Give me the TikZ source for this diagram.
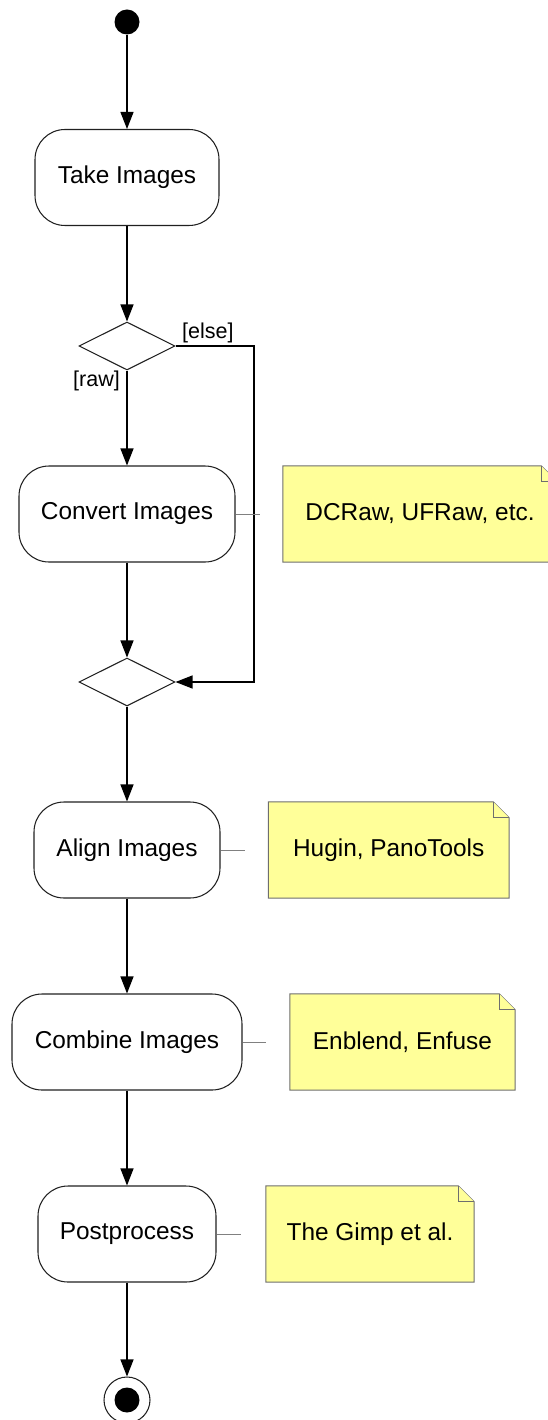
\documentclass[tikz,border=0pt]{standalone}
\usepackage{fontspec}
\setmainfont{Liberation Sans}
\usetikzlibrary{arrows.meta,shapes.geometric,backgrounds}
\definecolor{noteyellow}{HTML}{FFFF99}
\definecolor{notegray}{HTML}{6E6E6E}
\definecolor{linkgray}{HTML}{808080}
\definecolor{boxline}{HTML}{202020}
\tikzset{
  actbox/.style={draw=boxline, line width=1.05pt, rectangle, rounded corners=30pt,
     minimum height=96pt, inner sep=0pt, font=\fontsize{24.4}{28}\selectfont},
  decision/.style={draw=boxline, line width=1.05pt, diamond, aspect=2, minimum width=96pt,
     minimum height=48pt, inner sep=0pt},
  notebox/.style={rectangle, minimum height=96pt, inner sep=0pt,
     font=\fontsize{24.4}{28}\selectfont},
  guard/.style={inner sep=0pt, font=\fontsize{21.5}{25}\selectfont},
  flow/.style={draw=black, line width=1.2pt, -{Triangle[length=17pt,width=13pt]}},
  link/.style={draw=linkgray, line width=1pt},
  noteline/.style={draw=notegray, line width=1.05pt, fill=noteyellow, line join=miter}
}
\begin{document}
\begin{tikzpicture}[x=1pt,y=-1pt]
\useasboundingbox (0,0) rectangle (548,1420);
% start / end
\node[circle, fill=black, minimum size=25pt, inner sep=0pt] (start) at (127,22) {};
\node[circle, draw=boxline, line width=1.05pt, minimum size=46pt, inner sep=0pt] (end) at (127,1400) {};
\node[circle, fill=black, minimum size=25pt, inner sep=0pt] (endin) at (end.center) {};
% activities
\node[actbox, minimum width=184pt] (take) at (127,177.5) {Take Images};
\node[decision] (d1) at (127,346) {};
\node[actbox, minimum width=216pt] (convert) at (127,514) {Convert Images};
\node[decision] (d2) at (127,682) {};
\node[actbox, minimum width=186pt] (align) at (127,850) {Align Images};
\node[actbox, minimum width=230pt] (combine) at (127,1042) {Combine Images};
\node[actbox, minimum width=178pt] (post) at (127,1234) {Postprocess};
% notes
\node[notebox, minimum width=274pt] (n1) at (420,514) {DCRaw, UFRaw, etc.};
\node[notebox, minimum width=240.5pt] (n2) at (388.75,850) {Hugin, PanoTools};
\node[notebox, minimum width=225pt] (n3) at (402.5,1042) {Enblend, Enfuse};
\node[notebox, minimum width=208pt] (n4) at (370,1234) {The Gimp et al.};
\begin{scope}[on background layer]
\foreach \n in {n1,n2,n3,n4}{
  \draw[noteline] (\n.north west) -- ([xshift=-16pt]\n.north east)
     -- ([yshift=-16pt]\n.north east) -- (\n.south east) -- (\n.south west) -- cycle;
  \draw[noteline] ([xshift=-16pt]\n.north east) |- ([yshift=-16pt]\n.north east);
}
\end{scope}
% guards
\node[guard, anchor=south west] (elselbl) at (182,343) {[else]};
\node[guard, anchor=north east] (rawlbl) at (120,371) {[raw]};
% flows
\coordinate (elsecorner) at (254,346);
\draw[flow] (start) -- (take);
\draw[flow] (take) -- (d1);
\draw[flow] (d1) -- (convert);
\draw[flow] (convert) -- (d2);
\draw[flow] (d1.east) -- (elsecorner) |- (d2.east);
\draw[flow] (d2) -- (align);
\draw[flow] (align) -- (combine);
\draw[flow] (combine) -- (post);
\draw[flow] (post) -- (end);
% note links
\coordinate (l1) at (260,514);
\coordinate (l2) at (245,850);
\coordinate (l3) at (266,1042);
\coordinate (l4) at (241,1234);
\draw[link] (convert.east) -- (l1);
\draw[link] (align.east) -- (l2);
\draw[link] (combine.east) -- (l3);
\draw[link] (post.east) -- (l4);
\end{tikzpicture}
\end{document}
